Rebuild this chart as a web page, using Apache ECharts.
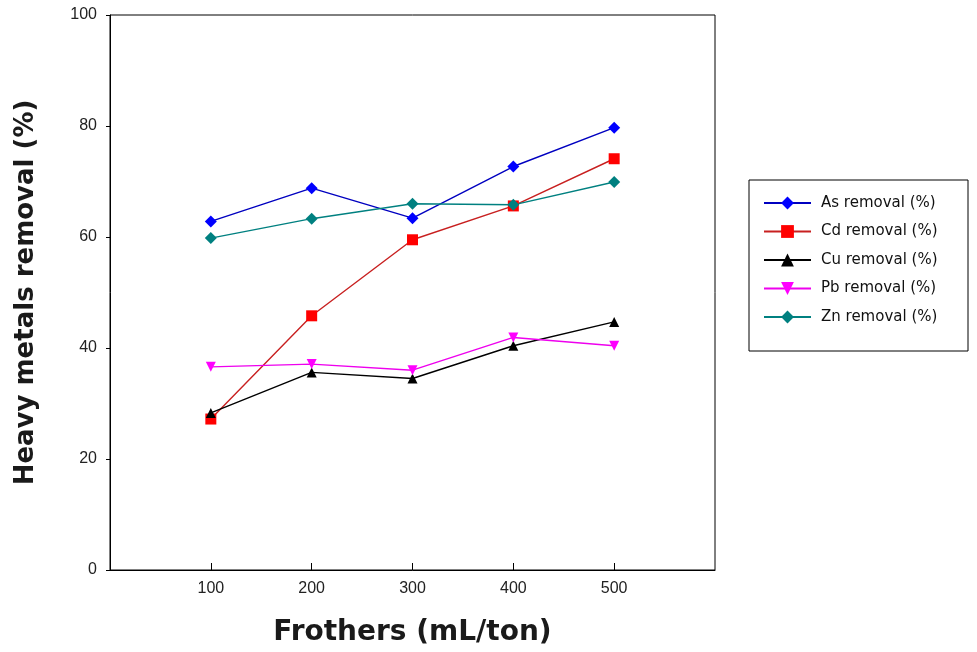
<!DOCTYPE html>
<html>
<head>
<meta charset="utf-8">
<script src="https://cdn.jsdelivr.net/npm/echarts@6/dist/echarts.min.js"></script>
<style>html,body{margin:0;padding:0;background:#fff;}#c{width:977px;height:652px;}</style>
</head>
<body>
<div id="c"></div>
<script>
const frothers = [100, 200, 300, 400, 500];
const asRemoval = [62.8, 68.8, 63.4, 72.7, 79.7];
const cdRemoval = [27.2, 45.8, 59.5, 65.6, 74.1];
const cuRemoval = [28.3, 35.6, 34.5, 40.4, 44.7];
const pbRemoval = [36.6, 37.1, 36.0, 41.9, 40.4];
const znRemoval = [59.8, 63.3, 66.0, 65.8, 69.9];
const seriesNames = ['As removal (%)', 'Cd removal (%)', 'Cu removal (%)', 'Pb removal (%)', 'Zn removal (%)'];
const yTicks = [0, 20, 40, 60, 80, 100];

const pair = (vals) => frothers.map((x, i) => [x, vals[i]]);

const chart = echarts.init(document.getElementById('c'));
const mk = (name, vals, lineColor, markColor, symbol, size, rotate) => ({
  name, type: 'line', data: pair(vals), symbol, symbolSize: size, symbolRotate: rotate || 0,
  lineStyle: { color: lineColor, width: 1.4 },
  itemStyle: { color: markColor, borderWidth: 0 },
  emphasis: { disabled: true }, animation: false
});
chart.setOption({
  animation: false,
  grid: { left: 110, top: 15, right: 262, bottom: 82, show: true, borderColor: '#000', borderWidth: 1 },
  xAxis: {
    type: 'value', min: 0, max: 600, interval: 100,
    name: 'Frothers (mL/ton)', nameLocation: 'middle', nameGap: 49,
    nameTextStyle: { fontFamily: 'DejaVu Sans', fontWeight: 'bold', fontSize: 28, color: '#1a1a1a' },
    axisLine: { lineStyle: { color: '#000', width: 1 } },
    axisTick: { inside: true, length: 7, lineStyle: { color: '#000' }, customValues: frothers },
    axisLabel: { customValues: frothers, fontFamily: 'Liberation Sans', fontSize: 16, color: '#222', margin: 11 },
    splitLine: { show: false }
  },
  yAxis: {
    type: 'value', min: 0, max: 100, interval: 20,
    name: 'Heavy metals removal (%)', nameLocation: 'middle', nameGap: 71, nameRotate: 90,
    nameTextStyle: { fontFamily: 'DejaVu Sans', fontWeight: 'bold', fontSize: 26, color: '#1a1a1a' },
    axisLine: { lineStyle: { color: '#000', width: 1 } },
    axisTick: { inside: false, length: 4, lineStyle: { color: '#000' } },
    axisLabel: { fontFamily: 'Liberation Sans', fontSize: 16, color: '#222', margin: 13, formatter: v => yTicks.includes(v) ? String(v) : '' },
    splitLine: { show: false }
  },
  legend: {
    orient: 'vertical', left: 749, top: 180,
    data: seriesNames,
    borderColor: '#000', borderWidth: 1, padding: [15, 8, 26, 14],
    itemGap: 12.5, itemWidth: 47, itemHeight: 16,
    textStyle: { fontFamily: 'DejaVu Sans', fontSize: 15, lineHeight: 16, color: '#111', width: 139, padding: [0, 0, 0, 5] }
  },
  series: [
    mk(seriesNames[0], asRemoval, '#0000c0', '#0000ff', 'diamond', 12),
    mk(seriesNames[1], cdRemoval, '#c82020', '#ff0000', 'rect', 11),
    mk(seriesNames[2], cuRemoval, '#000000', '#000000', 'triangle', 10),
    mk(seriesNames[3], pbRemoval, '#ee00ee', '#ff00ff', 'triangle', 10, 180),
    mk(seriesNames[4], znRemoval, '#008080', '#008080', 'diamond', 12)
  ]
});
</script>
</body>
</html>
